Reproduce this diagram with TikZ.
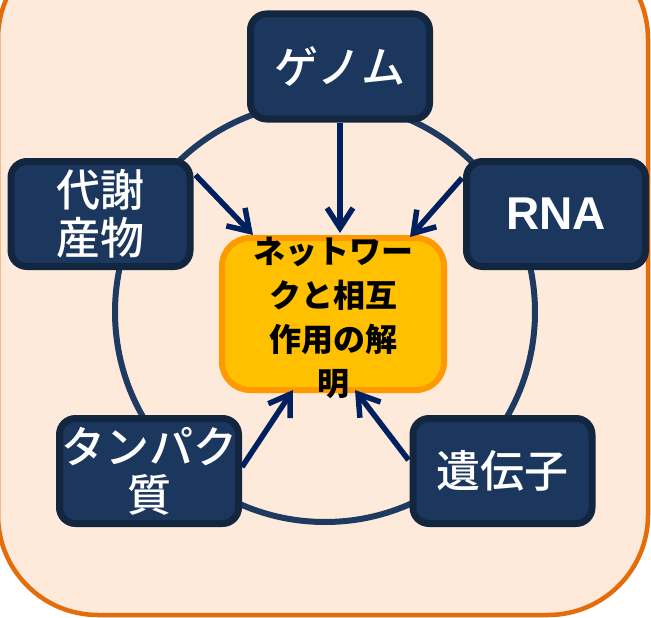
\documentclass[tikz,border=0pt]{standalone}
\usepackage{fontspec}
\newfontfamily\jp{Noto Sans CJK JP}
\newfontfamily\jpm{Noto Sans CJK JP}[UprightFont=* Medium]
\newfontfamily\arialb{Liberation Sans}
\usetikzlibrary{arrows.meta,calc}
\definecolor{bgfill}{HTML}{FDEADA}
\definecolor{bgline}{HTML}{E46C0A}
\definecolor{navy}{HTML}{1B375E}
\definecolor{navyline}{HTML}{132640}
\definecolor{ringc}{HTML}{1F3A60}
\definecolor{arrowc}{HTML}{002060}
\definecolor{goldfill}{HTML}{FFC000}
\definecolor{goldline}{HTML}{FF9900}
\tikzset{
  navybox/.style={draw=navyline, fill=navy, line width=7pt, rounded corners=16pt,
    minimum width=179pt, minimum height=105pt, text=white, align=center,
    font=\jpm\fontsize{44}{48}\selectfont, inner sep=0pt},
  goldbox/.style={draw=goldline, fill=goldfill, line width=6pt, rounded corners=28pt,
    minimum width=222pt, minimum height=152pt},
  goldtext/.style={align=center, text=black, font=\jp\bfseries\fontsize{32}{44}\selectfont, inner sep=0pt},
  link/.style={draw=arrowc, line width=5.5pt, -{Straight Barb[length=20pt,width=26pt,line width=5.5pt]}},
}
\begin{document}
\begin{tikzpicture}[x=1pt,y=-1pt]
\useasboundingbox (0,0) rectangle (651,618);
\clip (0,0) rectangle (651,618);
\draw[line width=4.5pt, draw=bgline, fill=bgfill, rounded corners=100pt] (-2,-61) rectangle (648,615);
\draw[draw=ringc, line width=6pt] (325,312) circle[radius=210pt];
\node[navybox] (genome) at (340,66.5) {\raisebox{-3pt}{ゲノム}};
\node[navybox] (metab) at (100.5,214) {\raisebox{-4pt}{代謝}\\\raisebox{-4pt}{産物}};
\node[navybox, font=\arialb\bfseries\fontsize{46}{48}\selectfont] (rna) at (556,214) {RNA};
\node[navybox] (prot) at (149,471) {\raisebox{-5pt}{タンパク}\\\raisebox{-5pt}{質}};
\node[navybox] (gene) at (502.5,471) {\raisebox{-2pt}{遺伝子}};
\node[goldbox] (center) at (333,314) {};
\node[goldtext] (ctext) at (333,318) {ネットワー\\クと相互\\作用の解\\明};
\draw[link] (genome.south) -- ($(center.north)+(7,-2)$);
\draw[link] ($(metab.north east)+(2,17)$) -- ($(center.north west)+(34,0)$);
\draw[link] ($(rna.north west)+(-1,20)$) -- ($(center.north east)+(-37,2)$);
\draw[link] ($(prot.north east)+(0,52)$) -- ($(center.south west)+(74,-3)$);
\draw[link] ($(gene.north west)+(-1,45)$) -- ($(center.south east)+(-92,-3)$);
\end{tikzpicture}
\end{document}
